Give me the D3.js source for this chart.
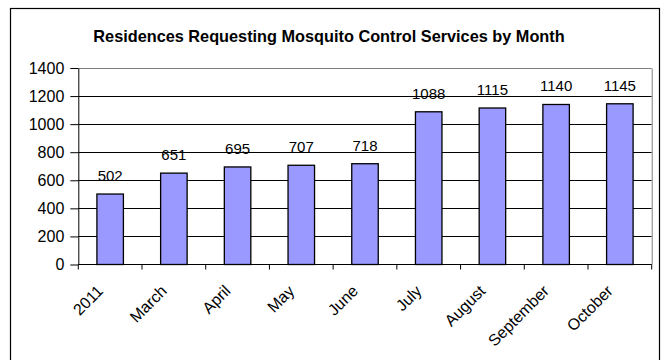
<!DOCTYPE html>
<html><head><meta charset="utf-8">
<script src="https://cdn.jsdelivr.net/npm/d3@7"></script>
<style>body{margin:0;background:#fff}text{font-family:Arial,"Liberation Sans",sans-serif}</style>
</head><body>
<svg id="c" width="665" height="360"></svg>
<script>
const categories = ["2011","March","April","May","June","July","August","September","October"];
const values = [502,651,695,707,718,1088,1115,1140,1145];
const yTicks = [0,200,400,600,800,1000,1200,1400];
const title = "Residences Requesting Mosquito Control Services by Month";

const svg = d3.select("#c");
const L = 78.3, R = 651.7, T = 68, B = 264.5;

svg.append("rect").attr("x",10.5).attr("y",8.5).attr("width",649).attr("height",360)
  .attr("fill","none").attr("stroke","#000").attr("stroke-width",1.2);

svg.append("text").attr("x",329).attr("y",41.5).attr("text-anchor","middle")
  .attr("font-weight","bold").attr("font-size",16.3).text(title);

const x = d3.scaleBand().domain(categories).range([L,R]).paddingInner(0).paddingOuter(0);
const y = d3.scaleLinear().domain([0,1400]).range([B,T]);

// gridlines
svg.append("g").selectAll("line").data(yTicks.filter(d=>d>0)).join("line")
  .attr("x1",L).attr("x2",R).attr("y1",d=>Math.round(y(d))+0.5).attr("y2",d=>Math.round(y(d))+0.5)
  .attr("stroke",d=>d===1400?"#808080":"#000").attr("stroke-width",1);
// plot right border
svg.append("line").attr("x1",R+0.5).attr("x2",R+0.5).attr("y1",Math.round(y(1400))+0.5).attr("y2",B)
  .attr("stroke","#808080");

// bars
const bw = 26.5;
svg.append("g").selectAll("rect").data(values).join("rect")
  .attr("x",(d,i)=>x(categories[i])+x.bandwidth()/2-bw/2)
  .attr("y",d=>y(d)).attr("width",bw).attr("height",d=>B-y(d))
  .attr("fill","#9999FF").attr("stroke","#000").attr("stroke-width",1.3);

// data labels
svg.append("g").selectAll("text").data(values).join("text")
  .attr("x",(d,i)=>x(categories[i])+x.bandwidth()/2).attr("y",d=>y(d)-13)
  .attr("text-anchor","middle").attr("font-size",15).text(d=>d);

// y axis
const ya = svg.append("g").attr("transform",`translate(${L},0)`)
  .call(d3.axisLeft(y).tickValues(yTicks).tickFormat(d3.format("d")).tickSize(8).tickPadding(6).tickSizeOuter(0));
ya.select(".domain").attr("stroke","#000");
ya.selectAll("text").attr("font-size",16).attr("font-family","Arial, 'Liberation Sans', sans-serif").attr("fill","#000");
ya.selectAll("line").attr("stroke","#000");

// x axis with ticks at category boundaries
const bounds = d3.range(categories.length+1).map(i=>L+i*x.bandwidth());
svg.append("line").attr("x1",L).attr("x2",R).attr("y1",B).attr("y2",B).attr("stroke","#000").attr("stroke-width",1.2);
svg.append("g").selectAll("line").data(bounds).join("line")
  .attr("x1",d=>d).attr("x2",d=>d).attr("y1",B).attr("y2",B+5).attr("stroke","#000");

svg.append("g").selectAll("text").data(categories).join("text")
  .attr("transform",d=>`translate(${x(d)+x.bandwidth()/2-6},292) rotate(-45)`)
  .attr("text-anchor","end").attr("font-size",16).text(d=>d);
</script>
</body></html>
